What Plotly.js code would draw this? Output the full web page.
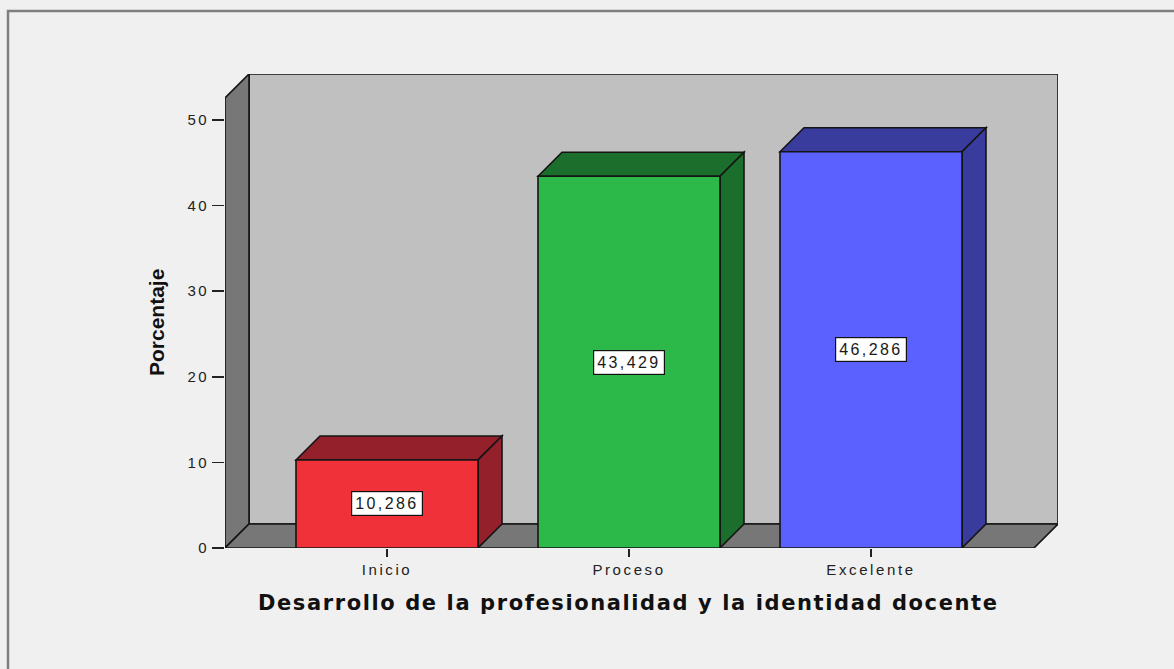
<!DOCTYPE html>
<html>
<head>
<meta charset="utf-8">
<script src="https://cdn.plot.ly/plotly-3.0.1.min.js"></script>
<style>
html,body{margin:0;padding:0;background:#f0f0f0;}
#chart{width:1174px;height:669px;}
#chart .xtick text{letter-spacing:2.6px;}
#chart .ytick text{letter-spacing:2.4px;}
</style>
</head>
<body>
<div id="chart"></div>
<script>
const categories = ["Inicio", "Proceso", "Excelente"];
const percentages = [10.286, 43.429, 46.286];
const frontColors = ["#f0313a", "#2db84a", "#5b61ff"];
const darkColors = ["#93202a", "#1c6e2c", "#393c9c"];
const yTicks = [0, 10, 20, 30, 40, 50];

const xs = categories.map((c, i) => i);
const barW = 0.752;
const dx = 0.0992;   // depth in x units
const dy = 2.80;     // depth in y units
const x0 = -0.6694, x1 = 2.7727;
const yTop = 55.37;
const edge = {color: "#141414", width: 1.6};

const shapes = [];
// outer frame
shapes.push({type: "rect", xref: "paper", yref: "paper", layer: "below",
  x0: -217/833, x1: 1.2, y0: -0.4, y1: (548-11)/474,
  line: {color: "#7f7f7f", width: 2.5}, fillcolor: "rgba(0,0,0,0)"});
// back wall
shapes.push({type: "path", xref: "x", yref: "y", layer: "below",
  path: `M${x0+dx},${dy} L${x1},${dy} L${x1},${yTop} L${x0+dx},${yTop} Z`,
  fillcolor: "#c0c0c0", line: edge});
// left wall
shapes.push({type: "path", xref: "x", yref: "y", layer: "below",
  path: `M${x0},0 L${x0+dx},${dy} L${x0+dx},${yTop} L${x0},${yTop-dy} Z`,
  fillcolor: "#777777", line: edge});
// floor
shapes.push({type: "path", xref: "x", yref: "y", layer: "below",
  path: `M${x0},0 L${x0+dx},${dy} L${x1},${dy} L${x1-dx},0 Z`,
  fillcolor: "#777777", line: edge});
// bar 3D faces
xs.forEach((c, i) => {
  const v = percentages[i];
  const l = c - barW/2, r = c + barW/2;
  shapes.push({type: "path", xref: "x", yref: "y", layer: "below",
    path: `M${l},${v} L${l+dx},${v+dy} L${r+dx},${v+dy} L${r},${v} Z`,
    fillcolor: darkColors[i], line: edge});
  shapes.push({type: "path", xref: "x", yref: "y", layer: "below",
    path: `M${r},0 L${r},${v} L${r+dx},${v+dy} L${r+dx},${dy} Z`,
    fillcolor: darkColors[i], line: edge});
});

const annotations = xs.map((c, i) => ({
  x: c, y: percentages[i]/2, xref: "x", yref: "y",
  text: '<span style="letter-spacing:2.4px">' + percentages[i].toFixed(3).replace(".", ",") + '</span>',
  showarrow: false, bgcolor: "#ffffff", bordercolor: "#111111", borderwidth: 1.2, borderpad: 3,
  font: {family: "Liberation Sans, Arial, sans-serif", size: 16, color: "#1a1a1a"}
}));
annotations.push({
  xref: "paper", yref: "paper", x: (628-225)/833, y: (548-603)/474,
  xanchor: "center", yanchor: "middle", showarrow: false,
  text: '<span style="letter-spacing:1.6px"><b>Desarrollo de la profesionalidad y la identidad docente</b></span>',
  font: {family: "DejaVu Sans, Verdana, sans-serif", size: 21, color: "#111111"}
});
annotations.push({
  xref: "paper", yref: "paper", x: (156-225)/833, y: (548-323)/474,
  xanchor: "center", yanchor: "middle", showarrow: false, textangle: -90,
  text: "<b>Porcentaje</b>",
  font: {family: "Liberation Sans, Arial, sans-serif", size: 21, color: "#111111"}
});

const trace = {
  type: "bar", x: xs, y: percentages, width: barW,
  marker: {color: frontColors, line: edge},
  hoverinfo: "skip"
};

const layout = {
  width: 1174, height: 669,
  margin: {l: 225, r: 116, t: 74, b: 121},
  paper_bgcolor: "#f0f0f0", plot_bgcolor: "rgba(0,0,0,0)",
  showlegend: false,
  xaxis: {range: [x0, x1], tickvals: xs, ticktext: categories, ticks: "outside", ticklen: 8,
    tickwidth: 1.5, tickcolor: "#222", showgrid: false, zeroline: false, showline: false,
    tickfont: {family: "Liberation Sans, Arial, sans-serif", size: 15, color: "#222"}},
  yaxis: {range: [0, yTop], tickvals: yTicks, ticks: "outside", ticklen: 12, tickwidth: 1.5,
    tickcolor: "#222", showgrid: false, zeroline: false, showline: false,
    tickfont: {family: "Liberation Sans, Arial, sans-serif", size: 15, color: "#222"}},
  shapes: shapes,
  annotations: annotations
};

Plotly.newPlot("chart", [trace], layout, {displayModeBar: false, staticPlot: true});
</script>
</body>
</html>
